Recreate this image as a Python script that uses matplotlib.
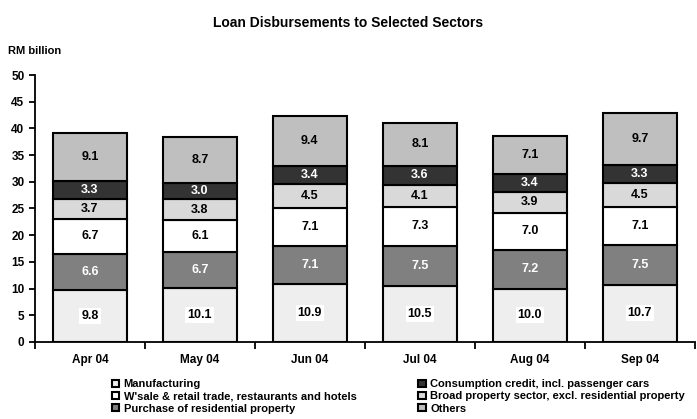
import matplotlib
matplotlib.use('Agg')
import matplotlib.pyplot as plt
import numpy as np

plt.rcParams['font.family'] = ['Liberation Sans', 'DejaVu Sans']
plt.rcParams['font.weight'] = 'bold'

# data
months = ['Apr 04', 'May 04', 'Jun 04', 'Jul 04', 'Aug 04', 'Sep 04']
manufacturing = [9.8, 10.1, 10.9, 10.5, 10.0, 10.7]
residential = [6.6, 6.7, 7.1, 7.5, 7.2, 7.5]
wsale = [6.7, 6.1, 7.1, 7.3, 7.0, 7.1]
broad_prop = [3.7, 3.8, 4.5, 4.1, 3.9, 4.5]
consumption = [3.3, 3.0, 3.4, 3.6, 3.4, 3.3]
others = [9.1, 8.7, 9.4, 8.1, 7.1, 9.7]

series = [
    ('Manufacturing', manufacturing, '#eeeeee', 'black', True),
    ('Purchase of residential property', residential, '#808080', 'white', False),
    ("W'sale & retail trade, restaurants and hotels", wsale, '#ffffff', 'black', False),
    ('Broad property sector, excl. residential property', broad_prop, '#d9d9d9', 'black', False),
    ('Consumption credit, incl. passenger cars', consumption, '#333333', 'white', False),
    ('Others', others, '#bfbfbf', 'black', False),
]

fig = plt.figure(figsize=(6.97, 4.19), dpi=100)
ax = fig.add_axes([0.050, 0.184, 0.947, 0.637])

x = np.arange(len(months))
bottom = np.zeros(len(months))
handles = {}
for name, vals, col, tcol, boxed in series:
    vals = np.array(vals)
    b = ax.bar(x, vals, 0.67, bottom=bottom, color=col, edgecolor='black', linewidth=1.5, label=name)
    handles[name] = b
    for xi, v, bt in zip(x, vals, bottom):
        kw = {}
        if boxed:
            kw['bbox'] = dict(facecolor='white', edgecolor='none', pad=1.5)
        ax.text(xi, bt + v / 2, '%.1f' % v, ha='center', va='center', fontsize=9,
                fontweight='bold', color=tcol, **kw)
    bottom += vals

ax.set_xlim(-0.5, len(months) - 0.5)
ax.set_ylim(0, 50)
ax.set_yticks(np.arange(0, 51, 5))
ax.set_xticks(x)
ax.set_xticklabels(months, fontsize=8.5, fontweight='bold')
ax.set_xticks(np.arange(-0.5, len(months), 1), minor=True)
ax.tick_params(axis='x', which='major', length=0, pad=9)
ax.tick_params(axis='x', which='minor', length=5, width=1.3, direction='out')
ax.tick_params(axis='y', labelsize=8.5, length=4, width=1.3, direction='out')
for lab in ax.get_yticklabels():
    lab.set_fontweight('bold')
ax.spines['top'].set_visible(False)
ax.spines['right'].set_visible(False)
ax.spines['left'].set_linewidth(1.3)
ax.spines['bottom'].set_linewidth(1.3)

fig.text(0.5, 0.945, 'Loan Disbursements to Selected Sectors', ha='center', va='center',
         fontsize=10, fontweight='bold')
fig.text(0.012, 0.878, 'RM billion', ha='left', va='center', fontsize=8, fontweight='bold')

cols = [
    (['Manufacturing', "W'sale & retail trade, restaurants and hotels",
      'Purchase of residential property'], 0.160),
    (['Consumption credit, incl. passenger cars',
      'Broad property sector, excl. residential property', 'Others'], 0.600),
]
for names, xpos in cols:
    leg = fig.legend([handles[n] for n in names], names, loc='upper left',
                     bbox_to_anchor=(xpos, 0.095), frameon=False,
                     fontsize=8, handlelength=0.7, handleheight=0.6, handletextpad=0.4,
                     labelspacing=0.2, borderaxespad=0, borderpad=0)
    for t in leg.get_texts():
        t.set_fontweight('bold')

fig.savefig('out.png', dpi=100)
